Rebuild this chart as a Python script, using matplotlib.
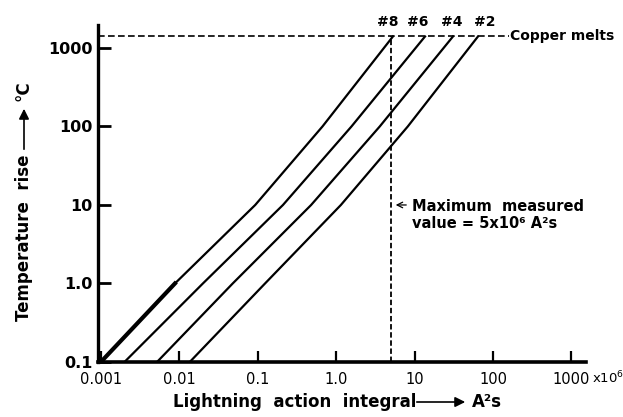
import matplotlib
matplotlib.use('Agg')
import matplotlib.pyplot as plt
from matplotlib.patches import FancyArrowPatch
from matplotlib.ticker import FixedLocator, NullLocator

# temperature rise (deg C) and action integral (x10^6 A^2s) for each wire size
temp_rise = [0.1, 1.0, 10, 100, 1400]
action_8 = [0.0010, 0.0088, 0.093, 0.67, 5.3]
action_6 = [0.0020, 0.020, 0.21, 1.57, 13.6]
action_4 = [0.0052, 0.048, 0.48, 3.6, 30.9]
action_2 = [0.0136, 0.124, 1.15, 8.2, 64.4]
wire_sizes = ['#8', '#6', '#4', '#2']

copper_melts = 1400
max_measured = 5

x_ticks = [0.001, 0.01, 0.1, 1, 10, 100, 1000]
x_tick_labels = ['0.001', '0.01', '0.1', '1.0', '10', '100', '1000']
y_ticks = [0.1, 1, 10, 100, 1000]
y_tick_labels = ['0.1', '1.0', '10', '100', '1000']

# where the wire size labels sit along x (layout only)
wire_label_x = [4.6, 11, 30, 79]

W, H = 623, 417


def px(x, y):
    '''pixel position -> figure fraction'''
    return x / W, 1 - y / H


fig = plt.figure(figsize=(W / 100, H / 100), dpi=100)
ax = fig.add_axes([98 / W, 1 - 362 / H, 488 / W, 337 / H])
ax.set_xscale('log')
ax.set_yscale('log')
ax.set_xlim(0.00092, 1535)
ax.set_ylim(0.1, 1960)

curves = [action_8, action_6, action_4, action_2]
for i, action in enumerate(curves):
    ax.plot(action, temp_rise, color='black', lw=1.6, solid_joinstyle='round', zorder=3)
    ax.text(wire_label_x[i], 1.009, wire_sizes[i], transform=ax.get_xaxis_transform(),
            ha='center', va='center', fontsize=10, fontweight='bold')
# lower part of #8 is drawn heavier
ax.plot(action_8[:2], temp_rise[:2], color='black', lw=3, zorder=3)

# copper melting line
ax.plot([0.00092, 160], [copper_melts, copper_melts], color='black', lw=1.2,
        dashes=(4, 2), zorder=2)
ax.text(165, copper_melts, 'Copper melts', ha='left', va='center',
        fontsize=10, fontweight='bold', clip_on=False)

# maximum measured value
ax.plot([max_measured, max_measured], [0.1, copper_melts], color='black', lw=1.3,
        dashes=(3, 1.5), zorder=2)
ax.annotate('', xy=(max_measured * 1.06, 10), xytext=(max_measured * 1.7, 10),
            arrowprops=dict(arrowstyle='->', lw=0.9, color='black'))
ax.text(9.3, 7.46, 'Maximum  measured\nvalue = 5x10\u2076 A\u00b2s', ha='left', va='center',
        fontsize=10.5, fontweight='bold')

# axes styling
for side in ['top', 'right']:
    ax.spines[side].set_visible(False)
ax.spines['left'].set_linewidth(2.4)
ax.spines['bottom'].set_linewidth(2.6)
ax.xaxis.set_major_locator(FixedLocator(x_ticks))
ax.yaxis.set_major_locator(FixedLocator(y_ticks))
ax.xaxis.set_minor_locator(NullLocator())
ax.yaxis.set_minor_locator(NullLocator())
ax.set_xticklabels(x_tick_labels)
ax.set_yticklabels(y_tick_labels)
ax.tick_params(axis='x', direction='in', length=8, width=1.6, labelsize=10.5, pad=7)
ax.tick_params(axis='y', direction='in', length=9, width=2, labelsize=11.5, pad=4)
for lab in ax.get_yticklabels():
    lab.set_fontweight('bold')
fig.text(*px(592, 378), r'x10$^{6}$', ha='left', va='center', fontsize=9.5)

# axis titles with arrows
fig.text(*px(295, 402), 'Lightning  action  integral', ha='center', va='center',
         fontsize=12, fontweight='bold')
fig.add_artist(FancyArrowPatch(
    px(414, 402), px(468, 402), transform=fig.transFigure,
    arrowstyle='-|>,head_length=6,head_width=3', lw=1.2, color='black'))
fig.text(*px(472, 402), 'A\u00b2s', ha='left', va='center', fontsize=12, fontweight='bold')

fig.text(*px(24, 238), 'Temperature  rise', rotation=90, ha='center', va='center',
         fontsize=12, fontweight='bold')
fig.add_artist(FancyArrowPatch(
    px(24, 152), px(24, 106), transform=fig.transFigure,
    arrowstyle='-|>,head_length=6,head_width=3', lw=1.2, color='black'))
fig.text(*px(24, 91), '\u00b0C', rotation=90, ha='center', va='center',
         fontsize=12, fontweight='bold')

fig.savefig('out.png', dpi=100)
